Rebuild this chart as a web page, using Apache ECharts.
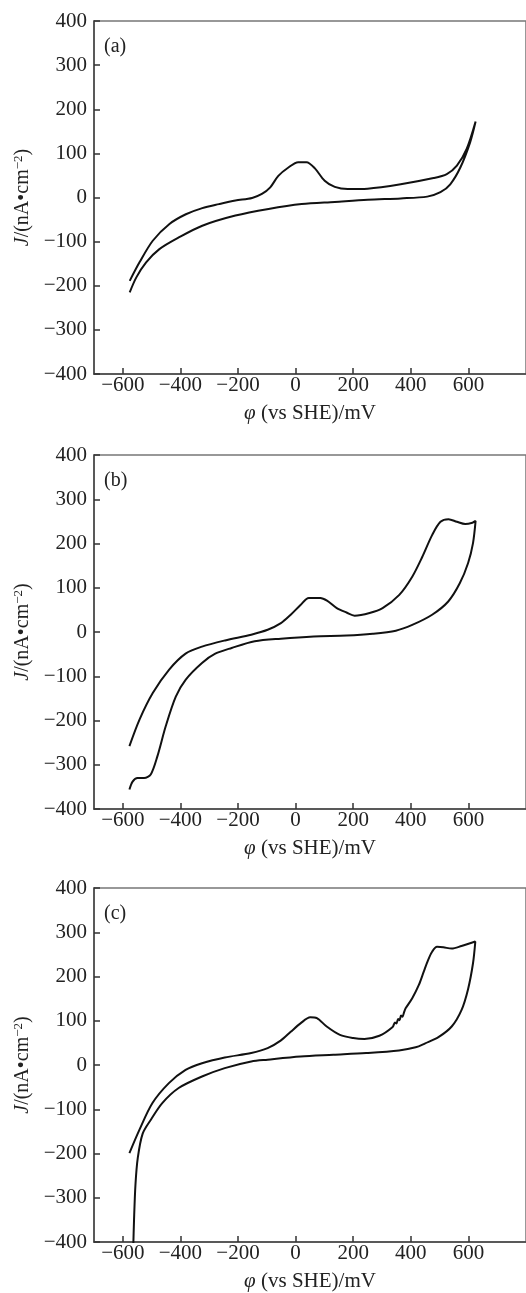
<!DOCTYPE html>
<html>
<head>
<meta charset="utf-8">
<script src="https://cdn.jsdelivr.net/npm/echarts@6/dist/echarts.min.js"></script>
<style>
html, body { margin: 0; padding: 0; background: #fff; }
#cvChart { width: 526px; height: 1293px; }
</style>
</head>
<body>
<div id="cvChart"></div>
<script>
const panelTags = ['(a)', '(b)', '(c)'];
const potentialTicks = [-600, -400, -200, 0, 200, 400, 600];

// each loop: forward scan to +625 mV, then back to -580 mV
const aPotential = [-576, -542, -496, -438, -381, -324, -266, -209, -151, -117, -88, -60, -25, 9, 38, 67, 101, 136, 181, 250, 365, 479, 525, 560, 594, 625,
  606, 572, 537, 503, 457, 365, 250, 136, 21, -94, -209, -324, -404, -473, -519, -553, -576];
const aCurrent = [-189, -147, -98, -60, -38, -24, -15, -7, -1, 8, 23, 49, 68, 80, 80, 66, 38, 24, 19, 20, 30, 44, 53, 72, 110, 172,
  125, 68, 30, 12, 2, -2, -5, -10, -15, -26, -41, -64, -90, -117, -147, -181, -215];

const bPotential = [-577, -542, -496, -439, -382, -325, -245, -154, -97, -51, -17, 17, 46, 86, 109, 143, 177, 205, 257, 302, 360, 405, 440, 474, 503, 531, 560, 589, 614, 625,
  616, 599, 570, 530, 474, 405, 348, 268, 177, 63, -51, -142, -222, -279, -325, -382, -416, -451, -480, -503, -526, -549, -566, -577];
const bCurrent = [-258, -198, -138, -85, -49, -33, -19, -6, 5, 20, 39, 61, 77, 77, 71, 54, 44, 37, 43, 54, 84, 125, 170, 219, 249, 255, 249, 244, 247, 251,
  201, 156, 110, 69, 39, 16, 3, -4, -8, -10, -15, -21, -36, -49, -70, -108, -146, -213, -281, -322, -330, -330, -338, -356];

// (c) has a noisy stretch near +350 mV on the forward scan
const cPotential = [-577, -542, -497, -440, -382, -325, -246, -154, -97, -52, -17, 17, 51, 74, 108, 154, 200, 239, 291, 337, 345, 350, 356, 361, 366, 371, 377, 382, 405, 428, 445, 460, 474, 491, 513, 542, 576, 624,
  616, 599, 576, 542, 496, 450, 417, 359, 245, 131, 17, -97, -154, -246, -325, -406, -463, -502, -531, -548, -556, -561, -564];
const cCurrent = [-199, -146, -86, -41, -11, 4, 17, 27, 38, 55, 75, 94, 108, 106, 87, 68, 61, 59, 66, 86, 96, 94, 104, 101, 112, 109, 120, 128, 151, 181, 211, 237, 256, 267, 266, 263, 269, 279,
  230, 172, 124, 87, 63, 49, 40, 33, 27, 23, 19, 12, 8, -7, -26, -52, -86, -123, -155, -210, -270, -350, -420];

const loops = [[aPotential, aCurrent], [bPotential, bCurrent], [cPotential, cCurrent]];

const chart = echarts.init(document.getElementById('cvChart'));

const serif = 'Liberation Serif, Times New Roman, serif';
const gridTops = [21, 455, 888];
const gridHeights = [353, 354, 355];
const minus = v => String(v).replace('-', '\u2212');

const option = {
  animation: false,
  backgroundColor: '#fff',
  title: panelTags.map((t, i) => ({
    text: t,
    left: 99,
    top: gridTops[i] + 11,
    textStyle: { fontFamily: serif, fontSize: 20, fontWeight: 'normal', color: '#222' }
  })),
  grid: gridTops.map((top, i) => ({
    left: 94,
    top: top,
    width: 438,
    height: gridHeights[i],
    show: true,
    borderColor: '#777',
    borderWidth: 1.5
  })),
  xAxis: gridTops.map((_, i) => ({
    type: 'value',
    gridIndex: i,
    min: -700,
    max: 800,
    name: '{i|φ} (vs SHE)/mV',
    nameLocation: 'middle',
    nameGap: 29,
    nameTextStyle: {
      fontFamily: serif, fontSize: 21, color: '#222',
      rich: { i: { fontFamily: serif, fontSize: 21, fontStyle: 'italic', color: '#222' } }
    },
    axisLine: { onZero: false, lineStyle: { color: '#444', width: 1.5 } },
    axisTick: { show: true, inside: true, length: 6, customValues: potentialTicks, lineStyle: { color: '#333', width: 1.5 } },
    axisLabel: { customValues: potentialTicks, formatter: minus, fontFamily: serif, fontSize: 21, color: '#222', margin: 1 },
    splitLine: { show: false }
  })),
  yAxis: gridTops.map((_, i) => ({
    type: 'value',
    gridIndex: i,
    min: -400,
    max: 400,
    interval: 100,
    name: '{i|J}/(nA•cm{sup|−2})',
    nameLocation: 'middle',
    nameGap: 50,
    nameTextStyle: {
      fontFamily: serif, fontSize: 20, color: '#222',
      rich: {
        i: { fontFamily: serif, fontSize: 20, fontStyle: 'italic', color: '#222' },
        sup: { fontFamily: serif, fontSize: 13, color: '#222', padding: [0, 0, 9, 0] }
      }
    },
    axisLine: { onZero: false, lineStyle: { color: '#444', width: 1.5 } },
    axisTick: { show: true, inside: true, length: 6, lineStyle: { color: '#333', width: 1.5 } },
    axisLabel: { formatter: minus, fontFamily: serif, fontSize: 21, color: '#222', margin: 7 },
    splitLine: { show: false }
  })),
  series: loops.map(([pot, cur], i) => ({
    type: 'line',
    xAxisIndex: i,
    yAxisIndex: i,
    data: pot.map((p, k) => [p, cur[k]]),
    showSymbol: false,
    smooth: 0.3,
    clip: true,
    lineStyle: { color: '#111', width: 2 }
  }))
};

chart.setOption(option);
</script>
</body>
</html>
